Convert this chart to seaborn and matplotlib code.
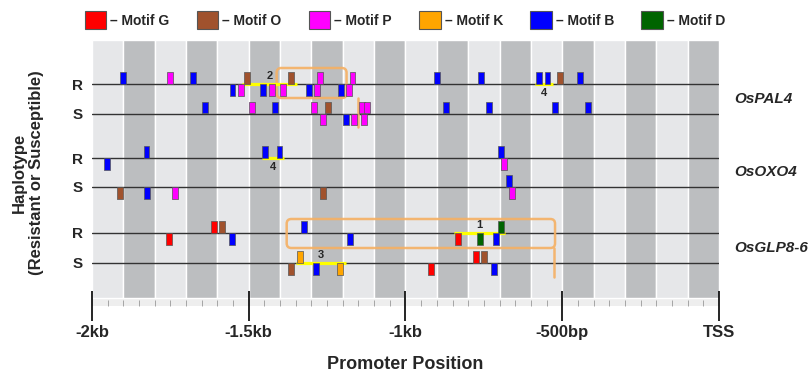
import matplotlib
matplotlib.use("Agg")
import matplotlib.pyplot as plt
import numpy as np
import pandas as pd
import seaborn as sns
from matplotlib.patches import Patch, FancyBboxPatch

# motif colours
motif_names = ["G", "O", "P", "K", "B", "D"]
motif_colors = ["#ff0000", "#a0522d", "#ff00ff", "#ffa500", "#0000ff", "#006400"]

# haplotype tracks: (position in bp, motif, strand) ; '+' above the line, '-' below
pal4_r = [(-1902, "B", "+"), (-1751, "P", "+"), (-1677, "B", "+"), (-1507, "O", "+"),
          (-1364, "O", "+"), (-1273, "P", "+"), (-1169, "P", "+"), (-899, "B", "+"),
          (-759, "B", "+"), (-574, "B", "+"), (-547, "B", "+"), (-506, "O", "+"),
          (-442, "B", "+"),
          (-1552, "B", "-"), (-1524, "P", "-"), (-1454, "B", "-"), (-1426, "P", "-"),
          (-1392, "P", "-"), (-1308, "B", "-"), (-1281, "P", "-"), (-1207, "B", "-"),
          (-1179, "P", "-")]
pal4_s = [(-1639, "B", "+"), (-1489, "P", "+"), (-1416, "B", "+"), (-1291, "P", "+"),
          (-1246, "O", "+"), (-1140, "P", "+"), (-1122, "P", "+"), (-871, "B", "+"),
          (-733, "B", "+"), (-522, "B", "+"), (-419, "B", "+"),
          (-1262, "P", "-"), (-1191, "B", "-"), (-1164, "P", "-"), (-1132, "P", "-")]
oxo4_r = [(-1826, "B", "+"), (-1449, "B", "+"), (-1402, "B", "+"), (-696, "B", "+"),
          (-1953, "B", "-"), (-686, "P", "-")]
oxo4_s = [(-671, "B", "+"),
          (-1911, "O", "-"), (-1824, "B", "-"), (-1736, "P", "-"), (-1262, "O", "-"),
          (-659, "P", "-")]
glp_r = [(-1611, "G", "+"), (-1584, "O", "+"), (-1324, "B", "+"), (-696, "D", "+"),
         (-1754, "G", "-"), (-1553, "B", "-"), (-1177, "B", "-"), (-833, "G", "-"),
         (-762, "D", "-"), (-712, "B", "-")]
glp_s = [(-1336, "K", "+"), (-775, "G", "+"), (-750, "O", "+"),
         (-1365, "O", "-"), (-1285, "B", "-"), (-1210, "K", "-"), (-920, "G", "-"),
         (-718, "B", "-")]

genes = ["OsPAL4", "OsOXO4", "OsGLP8-6"]
tracks = [pal4_r, pal4_s, oxo4_r, oxo4_s, glp_r, glp_s]
track_labels = ["R", "S", "R", "S", "R", "S"]

# conserved segments (track index, start, end, label)
segments = [(4, -844, -683, "1"), (0, -1521, -1347, "2"), (5, -1349, -1190, "3"),
            (0, -587, -530, "4"), (2, -1459, -1388, "4")]
seg_label_above = [True, True, True, False, False]

# orange boxes (x0, x1) and tails
orange_boxes = [(-1411, -1188), (-1379, -523)]
orange_tails = [-1151, -525]

xticks = [-2000, -1500, -1000, -500, 0]
xticklabels = ["-2kb", "-1.5kb", "-1kb", "-500bp", "TSS"]

# ---- layout (pixel units on y) ----
track_y = [84, 113.5, 158, 187, 233, 263]
box_h = 12

sns.set_style("white")
plt.rcParams["font.family"] = ["Liberation Sans", "DejaVu Sans"]

fig = plt.figure(figsize=(8.11, 3.78), dpi=100)
ax = fig.add_axes([92 / 811, (378 - 306) / 378, 627 / 811, 266 / 378])
ax.set_xlim(-2000, 0)
ax.set_ylim(306, 40)
ax.set_facecolor("#eeeeee")
for s in ax.spines.values():
    s.set_visible(False)

# background bands of 100bp
band_starts = np.arange(-2000, 0, 100)
band_cols = ["#e6e7e9" if i % 2 == 0 else "#bcbec0" for i in range(len(band_starts))]
ax.bar(band_starts, 258, bottom=40, width=100, align="edge", color=band_cols,
       edgecolor="white", linewidth=1.0, zorder=0)

# track lines
for y in track_y:
    ax.plot([-2000, 0], [y, y], color="#333333", lw=1.0, zorder=1)

# motif boxes
rows = []
for ti, tr in enumerate(tracks):
    for pos, m, strand in tr:
        rows.append({"pos": pos, "motif": m,
                     "y": track_y[ti] - box_h / 2 if strand == "+" else track_y[ti] + box_h / 2})
df = pd.DataFrame(rows)
rect = [(-0.25, -0.5), (0.25, -0.5), (0.25, 0.5), (-0.25, 0.5), (-0.25, -0.5)]
sns.scatterplot(data=df, x="pos", y="y", hue="motif",
                palette=dict(zip(motif_names, motif_colors)), marker=rect, s=72,
                edgecolor="#555555", linewidth=0.5, legend=False, ax=ax, zorder=4)

# conserved segments
for (ti, x0, x1, lab), above in zip(segments, seg_label_above):
    y = track_y[ti]
    ax.plot([x0, x1], [y, y], color="#ffff00", lw=2.3, zorder=3, solid_capstyle="butt")
    ax.text((x0 + x1) / 2, y - 8 if above else y + 9, lab, ha="center", va="center",
            fontsize=8, fontweight="bold", zorder=5)

# orange boxes
box_y = [(68, 98), (219, 248)]
for (x0, x1), (y0, y1), tx in zip(orange_boxes, box_y, orange_tails):
    p = FancyBboxPatch((x0, y0), x1 - x0, y1 - y0,
                       boxstyle="round,pad=0,rounding_size=15", mutation_aspect=0.3135,
                       fill=False, edgecolor="#f5b063", lw=1.8, zorder=2.5, alpha=0.9)
    ax.add_patch(p)
    ax.plot([tx, tx], [y1, y1 + 29], color="#f5b063", lw=1.8, zorder=2.5, alpha=0.9)

# gene labels
for gi, g in enumerate(genes):
    ymid = (track_y[2 * gi] + track_y[2 * gi + 1]) / 2
    ax.text(1.024, ymid, g, transform=ax.get_yaxis_transform(), ha="left", va="center",
            fontsize=11, fontweight="bold", fontstyle="italic")

# axes ticks
ax.set_yticks(track_y)
ax.set_yticklabels(track_labels, fontsize=11, fontweight="bold")
ax.tick_params(axis="y", length=0, pad=6.5, left=False)
ax.set_xticks(xticks)
ax.set_xticklabels(xticklabels, fontsize=12, fontweight="bold")
ax.set_xticks(np.arange(-2000, 1, 50), minor=True)
ax.tick_params(axis="x", which="major", bottom=True, direction="inout", length=21, width=1.2,
               color="black", pad=3)
ax.tick_params(axis="x", which="minor", bottom=True, direction="in", length=4, width=0.6,
               color="#999999")
ax.set_xlabel("Promoter Position", fontsize=13, fontweight="bold", labelpad=12)
ax.set_ylabel("Haplotype\n(Resistant or Susceptible)", fontsize=12, fontweight="bold",
              labelpad=20)

# legend
handles = [Patch(facecolor=c, edgecolor="#555555", linewidth=0.8) for c in motif_colors]
labels = ["\u2013 Motif " + m for m in motif_names]
fig.legend(handles, labels, loc="center", bbox_to_anchor=(405 / 811, 1 - 20 / 378), ncol=6,
           frameon=False, handlelength=1.55, handleheight=1.55, handletextpad=0.3,
           columnspacing=1.95, prop={"weight": "bold", "size": 10})

fig.savefig("out.png", dpi=100)
